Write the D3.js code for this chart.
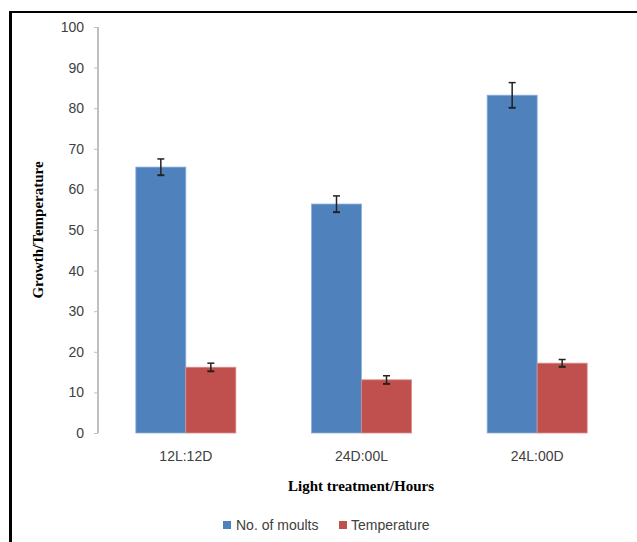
<!DOCTYPE html>
<html><head><meta charset="utf-8">
<script src="https://cdn.jsdelivr.net/npm/d3@7"></script>
<style>body{margin:0;background:#fff}svg{display:block}</style>
</head><body>
<script>
const categories = ["12L:12D", "24D:00L", "24L:00D"];
const seriesNames = ["No. of moults", "Temperature"];
const moults = [65.5, 56.4, 83.2];
const moultsErr = [2.0, 2.0, 3.1];
const temperature = [16.2, 13.1, 17.2];
const temperatureErr = [1.0, 1.0, 0.9];
const yTicks = [0, 10, 20, 30, 40, 50, 60, 70, 80, 90, 100];
const colors = ["#4F81BD", "#C0504D"];

const W = 637, H = 542;
const svg = d3.select("body").append("svg").attr("width", W).attr("height", H);

// frame
svg.append("line").attr("x1", 10.5).attr("x2", 10.5).attr("y1", 11).attr("y2", H).attr("stroke", "#000").attr("stroke-width", 3);
svg.append("line").attr("x1", 9).attr("x2", W).attr("y1", 12).attr("y2", 12).attr("stroke", "#000").attr("stroke-width", 2);

const x0 = d3.scaleBand().domain(categories).range([98, 625]).paddingInner(0).paddingOuter(0);
const x1 = d3.scaleBand().domain(seriesNames).range([0, 100]);
const y = d3.scaleLinear().domain([0, 100]).range([433, 27]);

// y axis
const yAxis = d3.axisLeft(y).tickValues(yTicks).tickSize(4).tickPadding(10);
const gy = svg.append("g").attr("transform", "translate(98,0)").call(yAxis);
gy.select(".domain").attr("stroke", "#BFBFBF").attr("stroke-width", 2).attr("d", "M0," + y(100) + "V" + y(0));
gy.selectAll(".tick line").attr("stroke", "#BFBFBF");
gy.selectAll(".tick text").attr("font-family", "Liberation Sans, Arial, sans-serif").attr("font-size", 14).attr("fill", "#404040");

const data = [moults, temperature];
const errs = [moultsErr, temperatureErr];
const groups = svg.append("g");
categories.forEach((c, i) => {
  const gx = x0(c) + (x0.bandwidth() - 100) / 2;
  seriesNames.forEach((s, j) => {
    const v = data[j][i], e = errs[j][i];
    const bx = gx + x1(s);
    groups.append("rect").attr("x", bx).attr("y", y(v)).attr("width", x1.bandwidth()).attr("height", y(0) - y(v))
      .attr("fill", colors[j]).attr("stroke", j === 0 ? "#8DB0DD" : "#D98D8B").attr("stroke-width", 0.8);
    const cx = bx + x1.bandwidth() / 2;
    const eb = groups.append("g").attr("stroke", "#222").attr("stroke-width", 1.5);
    eb.append("line").attr("x1", cx).attr("x2", cx).attr("y1", y(v + e)).attr("y2", y(v - e));
    eb.append("line").attr("x1", cx - 3.5).attr("x2", cx + 3.5).attr("y1", y(v + e)).attr("y2", y(v + e));
    eb.append("line").attr("x1", cx - 3.5).attr("x2", cx + 3.5).attr("y1", y(v - e)).attr("y2", y(v - e)).attr("stroke-width", 2);
  });
});

// x category labels
const xAxis = d3.axisBottom(x0).tickSize(0).tickPadding(18);
const gx = svg.append("g").attr("transform", "translate(0,433)").call(xAxis);
gx.select(".domain").remove();
gx.selectAll(".tick text").attr("font-family", "Liberation Sans, Arial, sans-serif").attr("font-size", 14).attr("fill", "#404040");

// axis titles
svg.append("text").attr("x", 361).attr("y", 491).attr("text-anchor", "middle")
  .attr("font-family", "Liberation Serif, Times New Roman, serif").attr("font-weight", "bold").attr("font-size", 15)
  .text("Light treatment/Hours");
svg.append("text").attr("transform", "translate(43,230) rotate(-90)").attr("text-anchor", "middle")
  .attr("font-family", "Liberation Serif, Times New Roman, serif").attr("font-weight", "bold").attr("font-size", 15)
  .text("Growth/Temperature");

// legend
const legend = [[223, 236], [339, 351]];
seriesNames.forEach((s, j) => {
  svg.append("rect").attr("x", legend[j][0]).attr("y", 521).attr("width", 8).attr("height", 8).attr("fill", colors[j]);
  svg.append("text").attr("x", legend[j][1]).attr("y", 530).attr("font-family", "Liberation Sans, Arial, sans-serif")
    .attr("font-size", 14).attr("fill", "#404040").text(s);
});
</script>
</body></html>
